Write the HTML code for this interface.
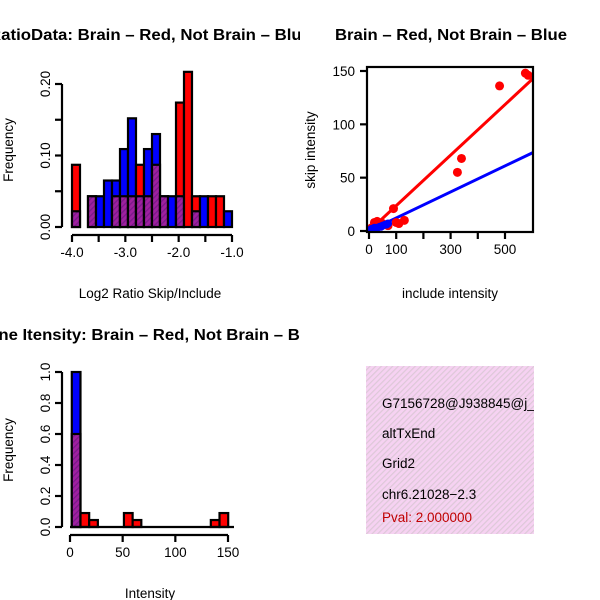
<!DOCTYPE html>
<html><head><meta charset="utf-8"><style>
body{margin:0;background:#fff}
svg{display:block;font-family:"Liberation Sans",sans-serif}
</style></head><body>
<svg id="c" width="600" height="600" xmlns="http://www.w3.org/2000/svg">
<defs>
<clipPath id="clipL"><rect x="0" y="0" width="300" height="600"/></clipPath>
<clipPath id="clipBox"><rect x="366" y="366" width="168" height="168"/></clipPath>
<pattern id="hatch" width="4" height="4" patternUnits="userSpaceOnUse" patternTransform="rotate(45)">
<rect width="4" height="4" fill="#a020a0"/><rect width="1.3" height="4" fill="#7a1a8a"/></pattern>
<pattern id="pink" width="4" height="4" patternUnits="userSpaceOnUse" patternTransform="rotate(45)">
<rect width="4" height="4" fill="#f6d2f2"/><rect width="1.2" height="4" fill="#ddc8d8"/></pattern>
</defs>
<g id="g"></g>
<g>
<rect x="366" y="366" width="168" height="168" fill="url(#pink)"/>
<g clip-path="url(#clipBox)" font-size="13.5">
<text x="382" y="408" fill="#000">G7156728@J938845@j_</text>
<text x="382" y="438" fill="#000">altTxEnd</text>
<text x="382" y="468" fill="#000">Grid2</text>
<text x="382" y="499" fill="#000">chr6.21028−2.3</text>
<text x="382" y="522" fill="#c00000">Pval: 2.000000</text>
</g></g>
</svg>
<script>
// Ratio histogram data (20 bins, -4.0 .. -1.0)
const ratioBinStart = -4.0;
const ratioBinWidth = 0.15;
const ratioRed  = [0.087,0,0.043,0,0,0.043,0.043,0.043,0.087,0.043,0.087,0.043,0,0.174,0.217,0.043,0,0.043,0.043,0];
const ratioBlue = [0.022,0,0.043,0.043,0.065,0.065,0.109,0.152,0.043,0.109,0.130,0.043,0.043,0.043,0,0.022,0.043,0,0,0.022];
const ratioXTicks = [-4.0,-3.5,-3.0,-2.5,-2.0,-1.5,-1.0];
const ratioXLabels = ["-4.0","","-3.0","","-2.0","","-1.0"];
const ratioYTicks = [0,0.05,0.10,0.15,0.20];
const ratioYLabels = ["0.00","","0.10","","0.20"];
// Intensity histogram data
const intBinStart = 1.7;
const intBinWidth = 8.25;
const intRed  = [0.6,0.09,0.045,0,0,0,0.09,0.045,0,0,0,0,0,0,0,0,0.045,0.09];
const intBlue = [1.0,0,0,0,0,0,0,0,0,0,0,0,0,0,0,0,0,0];
const intXTicks = [0,50,100,150];
const intYTicks = [0,0.2,0.4,0.6,0.8,1.0];
const intYLabels = ["0.0","0.2","0.4","0.6","0.8","1.0"];
// Scatter data
const redInclude = [575,585,480,340,325,90,100,130,110,20,30,50,70,10,40];
const redSkip    = [148,146,136,68,55,21,8,10,7,8,9,7,5,3,6];
const blueInclude= [5,10,20,30,40,50,60,70,15,25,45,65];
const blueSkip   = [1,2,3,3,4,5,6,7,2,2,4,6];
const redSlope = 0.237, blueSlope = 0.122;
const scXTicks = [0,100,200,300,400,500];
const scXLabels = ["0","100","","300","","500"];
const scYTicks = [0,50,100,150];

const NS="http://www.w3.org/2000/svg";
const root=document.getElementById('g');
const FS=13.5;
function mk(tag,attrs,parent){const e=document.createElementNS(NS,tag);for(const k in attrs)e.setAttribute(k,attrs[k]);(parent||root).appendChild(e);return e;}
function txt(s,attrs,parent){const e=mk('text',attrs,parent);e.textContent=s;return e;}
function lin(d0,d1,r0,r1){return v=>r0+(v-d0)/(d1-d0)*(r1-r0);}

function histogram(name,red,blue,start,width,xs,ys){
  const g=mk('g',{});
  
  
  for(let i=0;i<red.length;i++){
    const x0=xs(start+i*width),x1=xs(start+(i+1)*width);
    const r=red[i],b=blue[i];const mx=Math.max(r,b),mn=Math.min(r,b);
    if(mx<=0)continue;
    const top=mk('rect',{x:x0,y:ys(mx),width:x1-x0,height:ys(0)-ys(mx),fill:r>=b?'#ff0000':'#0000ff',stroke:'#000','stroke-width':2.2},g);
    
    
    if(mn>0){
      const o=mk('rect',{x:x0,y:ys(mn),width:x1-x0,height:ys(0)-ys(mn),fill:'url(#hatch)',stroke:'#000','stroke-width':2.2},g);
      
      
    }
  }
}
function xAxis(name,ticks,labels,xs,y,line){
  const g=mk('g',{});
  
  
  if(line!==false)mk('line',{x1:xs(ticks[0]),x2:xs(ticks[ticks.length-1]),y1:y,y2:y,stroke:'#000','stroke-width':2.2},g);
  ticks.forEach((t,i)=>{mk('line',{x1:xs(t),x2:xs(t),y1:y,y2:y+7,stroke:'#000','stroke-width':2.2},g);
    if(labels[i])txt(labels[i],{x:xs(t),y:y+22,'font-size':FS,'text-anchor':'middle'},g);});
}
function yAxis(name,ticks,labels,ys,x,rot,line){
  const g=mk('g',{});
  
  
  if(line!==false)mk('line',{x1:x,x2:x,y1:ys(ticks[0]),y2:ys(ticks[ticks.length-1]),stroke:'#000','stroke-width':2.2},g);
  ticks.forEach((t,i)=>{mk('line',{x1:x-7,x2:x,y1:ys(t),y2:ys(t),stroke:'#000','stroke-width':2.2},g);
    if(labels[i]){
      if(rot) txt(labels[i],{x:x-12,y:ys(t),'font-size':FS,'text-anchor':'middle',transform:`rotate(-90 ${x-12} ${ys(t)})`},g);
      else txt(labels[i],{x:x-12,y:ys(t)+5,'font-size':FS,'text-anchor':'end'},g);
    }});
}
function title(s,cx,y,len,parent,name){
  const t=txt(s,{x:cx,y:y,'font-size':16,'font-weight':'bold','text-anchor':'middle',textLength:len,lengthAdjust:'spacingAndGlyphs'},parent);
  
  
}

// Panel 1
{
  const xs=lin(-4,-1,72,232), ys=lin(0,0.2,227,84);
  const gL=mk('g',{'clip-path':'url(#clipL)'});
  title('RatioData: Brain – Red, Not Brain – Blue',150,40,322,gL,'ratio-title');
  histogram('ratio-histogram',ratioRed,ratioBlue,ratioBinStart,ratioBinWidth,xs,ys);
  xAxis('ratio-x-axis',ratioXTicks,ratioXLabels,xs,235);
  yAxis('ratio-y-axis',ratioYTicks,ratioYLabels,ys,62,true);
  txt('Log2 Ratio Skip/Include',{x:150,y:298,'font-size':FS,'text-anchor':'middle'});
  txt('Frequency',{x:13,y:150,'font-size':FS,'text-anchor':'middle',transform:'rotate(-90 13 150)'});
}
// Panel 2
{
  const xs=lin(0,500,369,505), ys=lin(0,150,231,71);
  title('Brain – Red, Not Brain – Blue',451,40,232,root,'scatter-title');
  const g=mk('g',{});
  
  
  const cp=mk('clipPath',{id:'clipSc'},g);mk('rect',{x:366,y:67,width:167,height:165},cp);
  const inner=mk('g',{'clip-path':'url(#clipSc)'},g);
  const rl=mk('line',{x1:xs(0),y1:ys(0),x2:xs(620),y2:ys(620*redSlope),stroke:'#ff0000','stroke-width':3},inner);
  
  
  const bl=mk('line',{x1:xs(0),y1:ys(0),x2:xs(620),y2:ys(620*blueSlope),stroke:'#0000ff','stroke-width':3},inner);
  
  
  redInclude.forEach((v,i)=>{const c=mk('circle',{cx:xs(v),cy:ys(redSkip[i]),r:4.5,fill:'#ff0000'},inner);
    
    });
  blueInclude.forEach((v,i)=>{const c=mk('circle',{cx:xs(v),cy:ys(blueSkip[i]),r:4,fill:'#0000ff'},inner);
    
    });
  mk('rect',{x:367,y:67,width:166,height:165,fill:'none',stroke:'#000','stroke-width':2.2},g);
  xAxis('scatter-x-axis',scXTicks,scXLabels,xs,232,false);
  yAxis('scatter-y-axis',scYTicks,scYTicks.map(String),ys,367,false,false);
  txt('include intensity',{x:450,y:298,'font-size':FS,'text-anchor':'middle'});
  txt('skip intensity',{x:315,y:150,'font-size':FS,'text-anchor':'middle',transform:'rotate(-90 315 150)'});
}
// Panel 3
{
  const xs=lin(0,150,70,228), ys=lin(0,1,527,372);
  const gL=mk('g',{'clip-path':'url(#clipL)'});
  title('Gene Itensity: Brain – Red, Not Brain – Blue',150,340,348,gL,'intensity-title');
  histogram('intensity-histogram',intRed,intBlue,intBinStart,intBinWidth,xs,ys);
  mk('line',{x1:70,x2:234,y1:527,y2:527,stroke:'#000','stroke-width':2.2});
  xAxis('intensity-x-axis',intXTicks,intXTicks.map(String),xs,535);
  yAxis('intensity-y-axis',intYTicks,intYLabels,ys,62,true);
  txt('Intensity',{x:150,y:598,'font-size':FS,'text-anchor':'middle'});
  txt('Frequency',{x:13,y:450,'font-size':FS,'text-anchor':'middle',transform:'rotate(-90 13 450)'});
}
</script>
</body></html>
